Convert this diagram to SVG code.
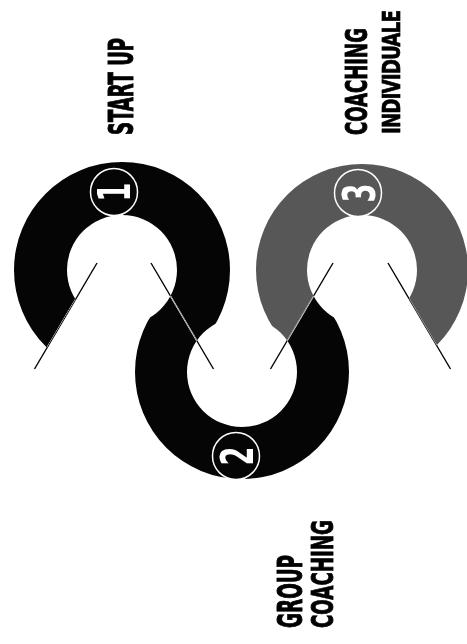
<svg xmlns="http://www.w3.org/2000/svg" width="467" height="644" viewBox="0 0 467 644">
<style>
.lbl{font-family:"Liberation Sans Narrow","DejaVu Sans Condensed","Liberation Sans",Arial,sans-serif;font-weight:bold;fill:#000;stroke:#000;stroke-width:0.7;font-size:24px}
.num{font-family:"Liberation Sans Narrow","DejaVu Sans Condensed","Liberation Sans",Arial,sans-serif;font-weight:bold;fill:#fff;text-anchor:middle;font-size:34px}
.ring{fill-rule:evenodd}
.dark{fill:#050505}
.grey{fill:#575757}
.badge{stroke:#fff;stroke-width:1.5}
.cut{stroke:#fff;stroke-width:1.4;fill:none;mix-blend-mode:difference}
</style>
<defs>
<mask id="m1" maskUnits="userSpaceOnUse" x="0" y="0" width="467" height="644">
<rect width="467" height="644" fill="#fff"/>
<polygon points="124,217.2 -8,440 256,440" fill="#000"/>
<circle cx="242" cy="372" r="55" fill="#000"/>
</mask>
<mask id="m2" maskUnits="userSpaceOnUse" x="0" y="0" width="467" height="644">
<rect width="467" height="644" fill="#fff"/>
<polygon points="242,417.2 137.5,240 346.5,240" fill="#000"/>
<circle cx="122" cy="270" r="55" fill="#000"/>
<circle cx="362" cy="270" r="55" fill="#000"/>
</mask>
<mask id="m3" maskUnits="userSpaceOnUse" x="0" y="0" width="467" height="644">
<rect width="467" height="644" fill="#fff"/>
<polygon points="360.5,216.4 228.6,440 492.4,440" fill="#000"/>
<circle cx="242" cy="372" r="55" fill="#000"/>
</mask>
</defs>
<rect width="467" height="644" fill="#fff"/>

<g id="ring1">
<path class="ring dark" mask="url(#m1)" d="M14,270 a108,108 0 1,0 216,0 a108,108 0 1,0 -216,0 Z M67,270 a55,55 0 1,0 110,0 a55,55 0 1,0 -110,0 Z"/>
<circle class="badge dark" cx="114" cy="192" r="23.5"/>
<text class="num" transform="translate(130,192) rotate(-90) scale(1,1.33)" textLength="19" lengthAdjust="spacingAndGlyphs">1</text>
</g>

<g id="ring2">
<path class="ring dark" mask="url(#m2)" d="M135,372 a107,107 0 1,0 214,0 a107,107 0 1,0 -214,0 Z M187,372 a55,55 0 1,0 110,0 a55,55 0 1,0 -110,0 Z"/>
<circle class="badge dark" cx="236" cy="456" r="23.5"/>
<text class="num" transform="translate(252.5,456) rotate(-90) scale(1,1.33)" textLength="19" lengthAdjust="spacingAndGlyphs">2</text>
</g>

<g id="ring3">
<path class="ring grey" mask="url(#m3)" d="M256,270 a106,106 0 1,0 212,0 a106,106 0 1,0 -212,0 Z M307,270 a55,55 0 1,0 110,0 a55,55 0 1,0 -110,0 Z"/>
<circle class="badge grey" cx="358" cy="193" r="23.5"/>
<text class="num" transform="translate(374.5,193) rotate(-90) scale(1,1.33)" textLength="19" lengthAdjust="spacingAndGlyphs">3</text>
</g>

<g id="connectors">
<line class="cut" x1="97" y1="263" x2="34.5" y2="369"/>
<line class="cut" x1="151" y1="263" x2="213.5" y2="369"/>
<line class="cut" x1="333" y1="263" x2="270.5" y2="369"/>
<line class="cut" x1="388" y1="263" x2="450.5" y2="369"/>
</g>

<g id="label-startup">
<text class="lbl" transform="translate(133,135) rotate(-90) scale(1,1.42)" textLength="97" lengthAdjust="spacingAndGlyphs">START UP</text>
</g>
<g id="label-individuale">
<text class="lbl" transform="translate(367,135) rotate(-90) scale(1,1.27)" textLength="107" lengthAdjust="spacingAndGlyphs">COACHING</text>
<text class="lbl" font-size="26" letter-spacing="-1" stroke-width="0.4" transform="translate(400,134) rotate(-90)" textLength="123" lengthAdjust="spacingAndGlyphs">INDIVIDUALE</text>
</g>
<g id="label-group">
<text class="lbl" transform="translate(302,628) rotate(-90) scale(1,1.37)" textLength="73" lengthAdjust="spacingAndGlyphs">GROUP</text>
<text class="lbl" transform="translate(333,628) rotate(-90) scale(1,1.22)" textLength="108" lengthAdjust="spacingAndGlyphs">COACHING</text>
</g>
</svg>
